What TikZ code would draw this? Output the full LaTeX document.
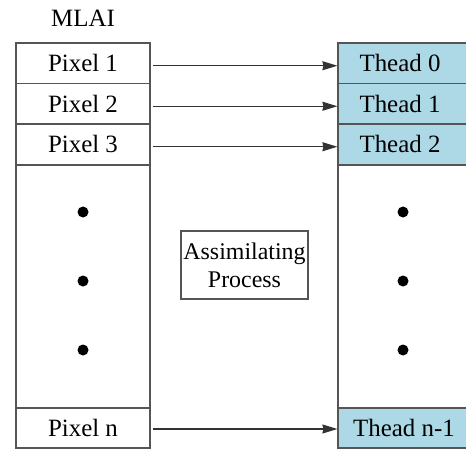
\documentclass[tikz,border=0pt]{standalone}
\usepackage{fontspec}
\setmainfont{Liberation Serif}
\newfontfamily\tms{Liberation Serif}
\usetikzlibrary{arrows.meta}
\definecolor{cellblue}{RGB}{173,216,230}
\definecolor{edgegray}{RGB}{85,85,85}
\begin{document}
\begin{tikzpicture}[x=1bp,y=-1bp,
  cell/.style={draw=edgegray,line width=1.2bp,rectangle,inner sep=0pt,
    minimum width=134bp,font=\tms\fontsize{25}{27}\selectfont},
  tcell/.style={cell,fill=cellblue,minimum width=134bp},
  big/.style={draw=edgegray,line width=1.2bp,rectangle,inner sep=0pt},
  dotm/.style={circle,fill=black,inner sep=0pt,minimum size=11bp},
  conn/.style={draw=black!80,line width=1.2bp,-{Stealth[length=15bp,width=9bp,inset=1bp]}},
  lbl/.style={font=\tms\fontsize{25}{27}\selectfont,inner sep=0pt}]
\clip (0,0) rectangle (466,449);
\fill[white] (0,0) rectangle (466,449);
% left column
\node[big,minimum width=134bp,minimum height=243bp] (lmid) at (83,286.5) {};
\node[cell,minimum height=40.5bp] (p1) at (83,63.25) {Pixel 1};
\node[cell,minimum height=40.5bp] (p2) at (83,103.75) {Pixel 2};
\node[cell,minimum height=40.5bp] (p3) at (83,144.25) {Pixel 3};
\node[cell,minimum height=40bp] (pn) at (83,428) {Pixel n};
% right column
\node[big,minimum width=134bp,minimum height=243bp] (rmid) at (405,286.5) {};
\node[tcell,minimum height=40.5bp] (t0) at (405,63.25) {};
\node[tcell,minimum height=40.5bp] (t1) at (405,103.75) {};
\node[tcell,minimum height=40.5bp] (t2) at (405,144.25) {};
\node[tcell,minimum height=40bp] (tn) at (405,428) {};
\node[lbl] (t0l) at (400,63.25) {Thead 0};
\node[lbl] (t1l) at (400,103.75) {Thead 1};
\node[lbl] (t2l) at (400,144.25) {Thead 2};
\node[lbl] (tnl) at (404,428) {Thead n-1};
% title
\node[lbl] (title) at (83,18) {MLAI};
% dots
\node[dotm] (ld1) at (83,212) {};
\node[dotm] (ld2) at (83,281) {};
\node[dotm] (ld3) at (83,350) {};
\node[dotm] (rd1) at (403,212) {};
\node[dotm] (rd2) at (403,281) {};
\node[dotm] (rd3) at (403,350) {};
% process box
\node[draw=edgegray,line width=1.1bp,rectangle,minimum width=127bp,minimum height=68bp,
  inner sep=0pt,align=center,font=\tms\fontsize{24}{28}\selectfont] (proc) at (244.5,265)
  {Assimilating\\Process};
% arrows
\draw[conn] ([xshift=2bp,yshift=-2.5bp]p1.east) -- ([yshift=-2.5bp]t0.west);
\draw[conn] ([xshift=2bp,yshift=-2.5bp]p2.east) -- ([yshift=-2.5bp]t1.west);
\draw[conn] ([xshift=2bp,yshift=-2.5bp]p3.east) -- ([yshift=-2.5bp]t2.west);
\draw[conn] ([xshift=2bp,yshift=-1bp]pn.east) -- ([yshift=-1bp]tn.west);
\end{tikzpicture}
\end{document}
